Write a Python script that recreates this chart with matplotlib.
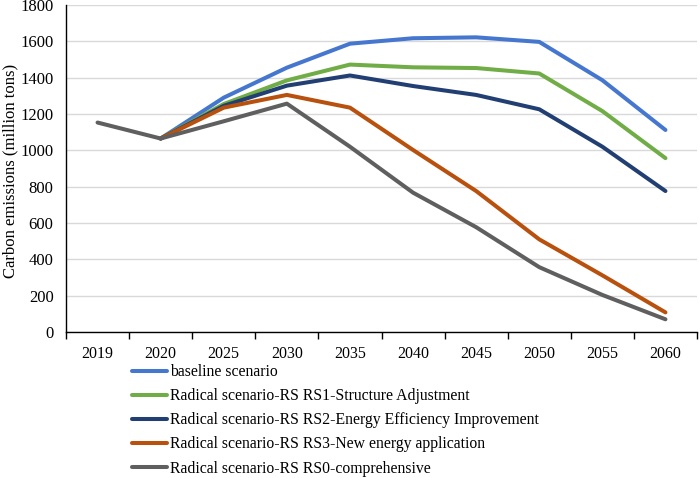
import matplotlib
matplotlib.use("Agg")
import matplotlib.pyplot as plt
import numpy as np

plt.rcParams['font.family'] = ['Liberation Serif', 'DejaVu Serif']

years = ["2019", "2020", "2025", "2030", "2035", "2040", "2045", "2050", "2055", "2060"]
baseline = [None, 1065, 1290, 1455, 1587, 1617, 1622, 1597, 1386, 1112]
rs1 = [None, 1065, 1255, 1385, 1472, 1457, 1453, 1423, 1216, 957]
rs2 = [None, 1065, 1245, 1356, 1412, 1354, 1305, 1226, 1020, 776]
rs3 = [None, 1065, 1235, 1305, 1235, 1002, 776, 510, 312, 108]
rs0 = [1153, 1065, 1160, 1257, 1020, 767, 577, 357, 204, 70]

labels = ["baseline scenario",
          "Radical scenario-RS RS1-Structure Adjustment",
          "Radical scenario-RS RS2-Energy Efficiency Improvement",
          "Radical scenario-RS RS3-New energy application",
          "Radical scenario-RS RS0-comprehensive"]
colors = ["#4677CE", "#70AD47", "#213F73", "#B8500E", "#5F5F5F"]
series = [baseline, rs1, rs2, rs3, rs0]

fig = plt.figure(figsize=(6.99, 4.78), dpi=100)
ax = fig.add_axes([66/699, 1-332/478, (697-66)/699, (332-5)/478])

x = np.arange(len(years))
handles = []
for s, c, lab in zip(series, colors, labels):
    ys = np.array([np.nan if v is None else v for v in s], dtype=float)
    h, = ax.plot(x, ys, color=c, lw=2.9, label=lab, solid_capstyle='round', solid_joinstyle='round')
    handles.append(h)

ax.set_xlim(-0.5, len(years) - 0.5)
ax.set_ylim(0, 1800)
ax.set_yticks(np.arange(0, 1801, 200))
ax.set_xticks(x)
ax.set_xticklabels(years)
ax.set_xticks(np.arange(-0.5, len(years), 1.0), minor=True)
ax.tick_params(axis='x', which='major', length=0, labelsize=11.5, pad=10)
ax.tick_params(axis='x', which='minor', length=5, width=1, direction='out', color='black')
ax.tick_params(axis='y', length=0, labelsize=12, pad=9)
ax.yaxis.grid(True, color='#D9D9D9', lw=1)
ax.set_axisbelow(True)
for sp in ['top', 'right']:
    ax.spines[sp].set_visible(False)
ax.spines['left'].set_color('black')
ax.spines['bottom'].set_color('black')
ax.spines['left'].set_linewidth(1)
ax.spines['bottom'].set_linewidth(1)
fig.text(10/699, 1-171/478, "Carbon emissions (million tons)", rotation=90,
         ha='center', va='center', fontsize=12)

fig.legend(handles=handles, loc='upper left', bbox_to_anchor=(132/699, 1-364/478),
           frameon=False, fontsize=11.3, handlelength=2.25, handletextpad=0.2,
           labelspacing=0.52, borderaxespad=0, borderpad=0)

fig.savefig("out.png", dpi=100)
